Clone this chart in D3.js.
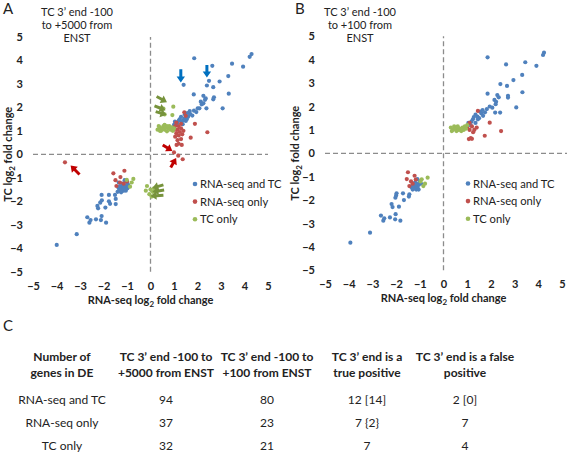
<!DOCTYPE html>
<html><head><meta charset="utf-8">
<script src="https://cdn.jsdelivr.net/npm/d3@7"></script>
<style>
body{margin:0;background:#fff;}
svg{display:block;font-family:Lato,"Open Sans",sans-serif;}
</style></head><body>
<svg id="c" width="567" height="467"></svg>
<script>
// ---------- data ----------
const ticks = [-5,-4,-3,-2,-1,0,1,2,3,4,5];
const seriesNames = ["RNA-seq and TC","RNA-seq only","TC only"];
const seriesColors = ["#4F81BD","#C0504D","#9BBB59"];

// Panel A (TC 3' end -100 to +5000 from ENST): [RNA-seq log2FC, TC log2FC]
const aBoth = [[1.86,4.09],[4.30,4.27],[4.22,4.15],[3.47,3.86],[2.63,3.77],[3.94,3.73],[3.31,3.33],[1.41,2.96],[2.49,3.13],[2.40,2.93],[2.94,3.10],[2.67,2.86],[1.84,2.55],[3.33,2.58],[2.25,2.49],[2.35,2.38],[2.70,2.43],[2.67,2.34],[2.14,2.24],[2.25,2.17],[3.07,1.96],[2.08,1.96],[2.32,2.32],[2.18,2.13],[2.38,1.96],[2.01,1.96],[1.85,1.86],[1.67,1.84],[1.57,1.76],[1.46,1.71],[1.30,1.60],[1.69,1.71],[1.44,1.53],[1.21,1.45],[1.11,1.30],[1.55,1.50],[1.50,1.42],[1.33,1.39],[1.37,1.28],[1.04,1.39],[1.25,1.50],[1.15,1.35],[1.00,1.25],[1.78,1.65],[1.95,1.80],[1.60,1.60],[1.40,1.45],
  [-3.99,-3.86],[-3.14,-3.40],[-2.69,-2.68],[-2.60,-2.91],[-2.55,-2.80],[-2.32,-2.77],[-2.11,-2.80],[-2.08,-2.63],[-1.89,-2.91],[-2.26,-2.20],[-2.23,-2.30],[-2.14,-2.06],[-2.07,-1.96],[-1.92,-2.27],[-1.72,-2.11],[-1.48,-2.12],[-2.08,-1.73],[-1.77,-1.73],[-1.51,-1.73],[-1.48,-1.90],[-1.77,-2.00],
  [-1.35,-1.45],[-1.30,-1.55],[-1.25,-1.50],[-1.20,-1.40],[-1.15,-1.55],[-1.10,-1.45],[-1.05,-1.35],[-1.00,-1.20],[-1.20,-1.25],[-1.10,-1.10],[-0.95,-1.30],[-1.30,-1.35],[-1.40,-1.60],[-1.25,-1.62],[-1.05,-1.55],[-0.98,-1.45],[-1.15,-1.30],[-1.35,-1.20]];
const aRnaOnly = [[1.44,1.79],[1.50,1.64],[1.89,1.30],[2.42,0.94],[1.71,0.71],[1.10,1.35],[1.20,1.20],[1.15,1.05],[1.30,1.10],[1.25,0.95],[1.10,0.90],[1.35,0.85],[1.20,0.80],[1.05,0.75],[1.30,0.65],[1.15,0.60],[1.40,1.00],[1.00,1.05],[1.30,1.30],[1.05,1.20],[1.11,0.40],[1.33,0.40],[1.00,0.08],[1.18,-0.06],[1.37,-0.21],[1.20,0.45],
  [-3.64,-0.34],[-1.58,-0.81],[-1.11,-0.70],[-1.49,-1.10],[-1.28,-0.97],[-1.14,-1.25],[-1.30,-1.20],[-1.45,-1.35],[-1.00,-1.15]];
const aTcOnly = [[0.30,1.05],[0.40,1.15],[0.45,1.00],[0.50,1.10],[0.55,1.20],[0.60,1.05],[0.65,1.15],[0.70,0.98],[0.75,1.10],[0.80,1.20],[0.85,1.05],[0.90,1.15],[0.95,1.00],[1.00,1.10],[0.40,1.00],[0.60,1.25],[0.70,1.20],[0.35,1.20],
  [0.97,2.03],[0.93,1.67],[0.55,1.95],[0.60,1.70],
  [-0.15,-1.35],[0.00,-1.50],[0.10,-1.60],[-0.05,-1.70],[0.15,-1.45],[0.05,-1.80],[-0.20,-1.55],
  [-1.01,-1.09],[-0.73,-1.05],[-0.87,-1.38],[-0.80,-1.20]];
// arrows in panel A: [x1,y1,x2,y2] (tail -> head), colour
const aArrows = [
  [1.29,3.62,1.29,3.06,"#0070C0"],[2.40,3.80,2.40,3.27,"#0070C0"],
  [0.52,0.40,0.93,0.14,"#C00000"],[0.86,-0.56,1.09,-0.16,"#C00000"],[-3.02,-0.86,-3.40,-0.48,"#C00000"],
  [0.26,2.46,0.70,2.22,"#77933C"],[0.17,2.06,0.64,1.88,"#77933C"],[0.22,1.82,0.68,1.68,"#77933C"],
  [0.55,-1.30,0.08,-1.44,"#77933C"],[0.58,-1.52,0.08,-1.60,"#77933C"],[0.55,-1.74,0.00,-1.78,"#77933C"]];

// Panel B (TC 3' end -100 to +100 from ENST)
const bBoth = [[1.86,4.10],[4.24,4.30],[4.20,4.20],[3.45,3.89],[2.64,3.80],[3.92,3.74],[3.32,3.35],[2.95,3.13],[2.40,2.96],[2.68,2.88],[1.86,2.55],[3.33,2.61],[2.27,2.49],[2.33,2.39],[2.72,2.46],[2.72,2.38],[2.15,2.28],[2.22,2.20],[2.20,2.10],[3.07,1.96],[2.06,1.95],[1.83,1.89],[1.65,1.85],[1.55,1.78],[1.43,1.57],[1.35,1.65],[1.67,1.60],[2.18,1.74],[2.39,1.74],[1.24,1.45],[1.18,1.35],[1.50,1.50],[1.14,1.20],[1.35,1.30],[1.60,1.70],[1.75,1.75],[1.95,2.00],[1.45,1.45],[1.28,1.55],[1.05,1.30],
  [-3.93,-3.82],[-3.10,-3.39],[-2.64,-2.66],[-2.54,-2.88],[-2.50,-2.78],[-2.26,-2.74],[-2.04,-2.82],[-2.02,-2.60],[-1.82,-2.88],[-2.19,-2.17],[-2.15,-2.30],[-2.03,-1.90],[-2.00,-1.80],[-1.88,-2.28],[-1.67,-2.00],[-1.46,-1.85],[-1.98,-1.71],[-1.71,-1.71],[-1.44,-1.75],
  [-1.35,-1.45],[-1.30,-1.55],[-1.25,-1.50],[-1.20,-1.40],[-1.15,-1.55],[-1.10,-1.45],[-1.05,-1.35],[-1.00,-1.20],[-1.20,-1.25],[-1.10,-1.10],[-0.95,-1.30],[-1.30,-1.35],[-1.05,-1.55],[-1.15,-1.30]];
const bRnaOnly = [[1.45,1.81],[1.95,1.31],[2.43,0.95],[1.74,0.75],[1.07,0.61],[1.20,0.62],[1.10,1.30],[1.20,1.15],[1.30,1.00],[1.10,1.00],[1.40,1.10],[1.25,0.90],[1.00,1.10],[1.15,0.65],
  [-1.50,-0.81],[-1.22,-0.96],[-1.55,-1.10],[-1.37,-1.20],[-1.17,-1.12],[-1.44,-1.40],[-1.30,-1.30]];
const bTcOnly = [[0.31,1.10],[0.40,1.00],[0.45,1.15],[0.50,1.05],[0.55,0.95],[0.60,1.10],[0.65,1.00],[0.70,1.05],[0.80,1.10],[0.90,1.15],[1.00,1.20],[0.75,0.95],[0.85,1.00],[0.35,0.95],[0.95,1.05],[0.60,1.15],
  [-0.92,-1.11],[-0.67,-1.04],[-0.85,-1.40],[-0.78,-1.30],[-0.97,-1.20]];

// Table C
const tableHeader = [["Number of","genes in DE"],["TC 3\u2019 end -100 to","+5000 from ENST"],["TC 3\u2019 end -100 to","+100 from ENST"],["TC 3\u2019 end is a","true positive"],["TC 3\u2019 end is a false","positive"]];
const tableRows = ["RNA-seq and TC","RNA-seq only","TC only"];
const col5000 = ["94","37","32"];
const col100 = ["80","23","21"];
const colTrue = ["12 [14]","7 {2}","7"];
const colFalse = ["2 [0]","7","4"];

// ---------- drawing ----------
const svg = d3.select("#c");
const txt = "#222";

function panel(cfg){
  const g = svg.append("g");
  const x = d3.scaleLinear().domain([-5,5]).range([cfg.x0,cfg.x1]);
  const y = d3.scaleLinear().domain([-5,5]).range([cfg.y0,cfg.y1]);
  // dashed zero lines
  g.append("line").attr("x1",x(-5)).attr("x2",cfg.hEnd).attr("y1",y(0)).attr("y2",y(0))
    .attr("stroke","#8c8c8c").attr("stroke-width",1.3).attr("stroke-dasharray","5,3");
  g.append("line").attr("x1",x(0)).attr("x2",x(0)).attr("y1",y(-5)).attr("y2",y(5))
    .attr("stroke","#8c8c8c").attr("stroke-width",1.3).attr("stroke-dasharray","5,3");
  // axes (labels only)
  const ax = g.append("g").attr("transform",`translate(0,${cfg.y0+7})`)
    .call(d3.axisBottom(x).tickValues(ticks).tickSize(0).tickPadding(3).tickFormat(d3.format("d")));
  const ay = g.append("g").attr("transform",`translate(${cfg.yLabX},0)`)
    .call(d3.axisLeft(y).tickValues(ticks).tickSize(0).tickPadding(0).tickFormat(d3.format("d")));
  [ax,ay].forEach(a=>{a.select(".domain").remove();
    a.selectAll("text").attr("font-size",11).attr("font-weight","bold").attr("fill",txt).attr("font-family","Lato");});
  // axis titles
  const xt = g.append("text").attr("x",(cfg.x0+cfg.x1)/2).attr("y",cfg.y0+32).attr("text-anchor","middle")
    .attr("font-size",11).attr("font-weight","bold").attr("fill",txt);
  xt.append("tspan").text("RNA-seq log");
  xt.append("tspan").text("2").attr("font-size",8).attr("dy",3);
  xt.append("tspan").text(" fold change").attr("dy",-3);
  const yt = g.append("text").attr("transform",`translate(${cfg.yTitleX},${y(0)}) rotate(-90)`).attr("text-anchor","middle")
    .attr("font-size",11).attr("font-weight","bold").attr("fill",txt);
  yt.append("tspan").text("TC log");
  yt.append("tspan").text("2").attr("font-size",8).attr("dy",3);
  yt.append("tspan").text(" fold change").attr("dy",-3);
  // panel letter and subtitle
  g.append("text").attr("x",cfg.letterX).attr("y",14).attr("font-size",15).attr("fill",txt).text(cfg.letter);
  cfg.subtitle.forEach((s,i)=>g.append("text").attr("x",cfg.subX).attr("y",16+i*12.8)
    .attr("text-anchor","middle").attr("font-size",11).attr("fill",txt).text(s));
  // points
  cfg.series.forEach((arr,i)=>{
    g.append("g").selectAll("circle").data(arr).join("circle")
      .attr("cx",d=>x(d[0])).attr("cy",d=>y(d[1])).attr("r",2.1).attr("fill",seriesColors[i]);
  });
  // arrows
  (cfg.arrows||[]).forEach(a=>{
    const x1=x(a[0]),y1=y(a[1]),x2=x(a[2]),y2=y(a[3]);
    const ang=Math.atan2(y2-y1,x2-x1), L=Math.hypot(x2-x1,y2-y1), hl=6, hw=4.2, sw=1.5;
    const pts=[[0,-sw],[L-hl,-sw],[L-hl,-hw],[L,0],[L-hl,hw],[L-hl,sw],[0,sw]]
      .map(p=>[x1+p[0]*Math.cos(ang)-p[1]*Math.sin(ang), y1+p[0]*Math.sin(ang)+p[1]*Math.cos(ang)]);
    g.append("path").attr("d","M"+pts.map(p=>p.join(",")).join("L")+"Z").attr("fill",a[4]);
  });
  // legend
  seriesNames.forEach((n,i)=>{
    const ly = cfg.legY + i*17.6;
    g.append("circle").attr("cx",cfg.legX).attr("cy",ly).attr("r",2.3).attr("fill",seriesColors[i]);
    g.append("text").attr("x",cfg.legX+5).attr("y",ly+4).attr("font-size",11.2).attr("fill",txt).text(n);
  });
}

panel({x0:33,x1:268,y0:271.7,y1:36.9,hEnd:268,yLabX:23,yTitleX:11.5,letter:"A",letterX:3,subX:77,
  subtitle:["TC 3\u2019 end -100","to +5000 from","ENST"],series:[aBoth,aRnaOnly,aTcOnly],arrows:aArrows,legX:195,legY:184});
panel({x0:325,x1:562,y0:270.3,y1:36.3,hEnd:567,yLabX:315,yTitleX:299,letter:"B",letterX:295,subX:360,
  subtitle:["TC 3\u2019 end -100","to +100 from","ENST"],series:[bBoth,bRnaOnly,bTcOnly],legX:468,legY:183.5});

// Table C
const tg = svg.append("g");
tg.append("text").attr("x",3).attr("y",331).attr("font-size",15).attr("fill",txt).text("C");
const colX = [62,166,267,367,465];
tableHeader.forEach((h,i)=>h.forEach((s,j)=>tg.append("text").attr("x",colX[i]).attr("y",361+j*15.5)
  .attr("text-anchor","middle").attr("font-size",12).attr("font-weight","bold").attr("fill",txt).text(s)));
const rowY = [404,427,450];
const cols = [tableRows,col5000,col100,colTrue,colFalse];
cols.forEach((c,i)=>c.forEach((s,j)=>tg.append("text").attr("x",colX[i]).attr("y",rowY[j])
  .attr("text-anchor","middle").attr("font-size",12).attr("fill",txt).text(s)));
</script></body></html>
